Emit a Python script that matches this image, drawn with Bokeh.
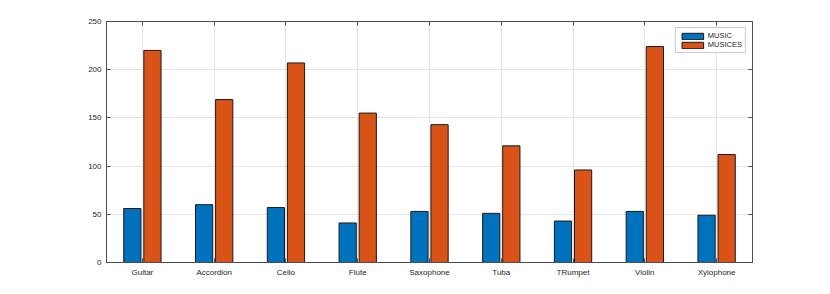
from bokeh.plotting import figure
from bokeh.models import ColumnDataSource, LinearAxis, CategoricalAxis, Range1d, FixedTicker, Legend, LegendItem
from bokeh.transform import dodge
from bokeh.embed import file_html
from bokeh.resources import INLINE

categories = ["Guitar", "Accordion", "Cello", "Flute", "Saxophone", "Tuba", "TRumpet", "Violin", "Xylophone"]
music = [56, 60, 57, 41, 53, 51, 43, 53, 49]
musices = [220, 169, 207, 155, 143, 121, 96, 224, 112]
y_ticks = [0, 50, 100, 150, 200, 250]

src = ColumnDataSource(dict(cat=categories, music=music, musices=musices))

FONT = "Liberation Sans"
AX = "#4d4d4d"
TXT = "#262626"

p = figure(x_range=categories, y_range=Range1d(0, 250), width=822, height=286,
           output_backend="svg", toolbar_location=None,
           min_border_left=106, min_border_right=70, min_border_top=21, min_border_bottom=24)
p.outline_line_color = AX
p.background_fill_color = "white"

r1 = p.vbar(x=dodge("cat", -0.14, range=p.x_range), top="music", width=0.24, source=src,
            fill_color="#0072BD", line_color="#1a1a1a", line_width=1)
r2 = p.vbar(x=dodge("cat", 0.14, range=p.x_range), top="musices", width=0.24, source=src,
            fill_color="#D95319", line_color="#1a1a1a", line_width=1)

def style(ax, labels=True):
    ax.axis_line_color = AX
    ax.major_tick_line_color = AX
    ax.major_tick_in = 4
    ax.major_tick_out = 0
    ax.minor_tick_line_color = None
    ax.major_label_text_font = FONT
    ax.major_label_text_font_size = "8px"
    ax.major_label_text_color = TXT
    ax.major_label_standoff = 5 if labels else 0

p.yaxis.ticker = FixedTicker(ticks=y_ticks)
style(p.xaxis[0])
style(p.yaxis[0])

ra = LinearAxis(ticker=FixedTicker(ticks=y_ticks))
style(ra, labels=False)
ra.major_label_overrides = {t: "" for t in y_ticks}
p.add_layout(ra, "right")

ta = CategoricalAxis()
style(ta, labels=False)
ta.major_label_text_color = None
p.add_layout(ta, "above")

p.xgrid.grid_line_color = "#e5e5e5"
p.ygrid.grid_line_color = "#e5e5e5"
p.ygrid.ticker = FixedTicker(ticks=y_ticks)

legend = Legend(items=[LegendItem(label="MUSIC", renderers=[r1]),
                       LegendItem(label="MUSICES", renderers=[r2])],
                location="top_right", margin=6, padding=3, spacing=0,
                glyph_width=27, glyph_height=8, label_standoff=2,
                label_text_font=FONT, label_text_font_size="7.5px", label_text_color=TXT,
                label_height=8, border_line_color="#999999", border_line_width=1,
                background_fill_alpha=1)
p.add_layout(legend)

open("out.html", "w").write(file_html(p, INLINE))
